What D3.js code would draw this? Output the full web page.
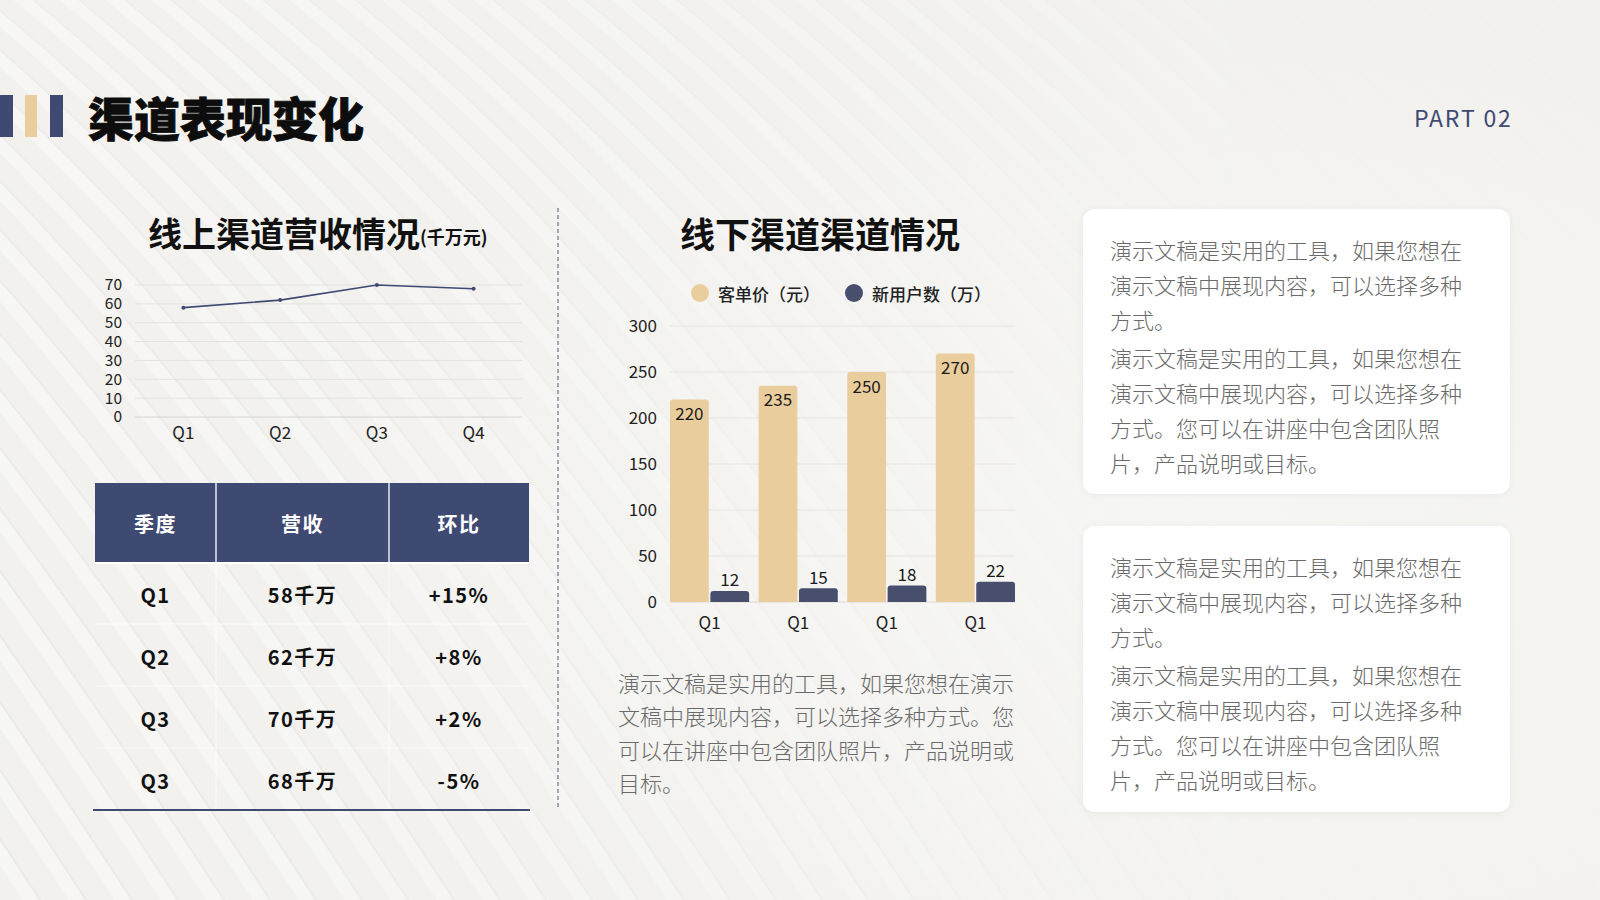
<!DOCTYPE html>
<html><head><meta charset="utf-8">
<script src="https://cdn.jsdelivr.net/npm/d3@7"></script>
<style>
html,body{margin:0;padding:0;background:#f2f1ee;}
svg{display:block;}
text{font-family:"Noto Sans CJK SC","Noto Sans",sans-serif;}
</style></head>
<body>
<svg id="c" width="1600" height="900"></svg>
<script>
// ---------- data ----------
const pageTitle = "渠道表现变化";
const partLabel = "PART 02";
const lineTitle = "线上渠道营收情况";
const lineUnit = "(千万元)";
const lineQuarters = ["Q1", "Q2", "Q3", "Q4"];
const lineRevenue = [58, 62, 70, 68];
const lineTicks = [0, 10, 20, 30, 40, 50, 60, 70];

const tableHeaders = ["季度", "营收", "环比"];
const tableQuarters = ["Q1", "Q2", "Q3", "Q3"];
const tableRevenue = ["58千万", "62千万", "70千万", "68千万"];
const tableChange = ["+15%", "+8%", "+2%", "-5%"];

const barTitle = "线下渠道渠道情况";
const barSeriesNames = ["客单价（元）", "新用户数（万）"];
const barCategories = ["Q1", "Q1", "Q1", "Q1"];
const unitPrice = [220, 235, 250, 270];
const newUsers = [12, 15, 18, 22];
const barTicks = [0, 50, 100, 150, 200, 250, 300];

const barNote = ["演示文稿是实用的工具，如果您想在演示", "文稿中展现内容，可以选择多种方式。您", "可以在讲座中包含团队照片，产品说明或", "目标。"];
const cardTexts = [
  [["演示文稿是实用的工具，如果您想在", "演示文稿中展现内容，可以选择多种", "方式。"],
   ["演示文稿是实用的工具，如果您想在", "演示文稿中展现内容，可以选择多种", "方式。您可以在讲座中包含团队照", "片，产品说明或目标。"]],
  [["演示文稿是实用的工具，如果您想在", "演示文稿中展现内容，可以选择多种", "方式。"],
   ["演示文稿是实用的工具，如果您想在", "演示文稿中展现内容，可以选择多种", "方式。您可以在讲座中包含团队照", "片，产品说明或目标。"]]
];

// ---------- styles ----------
const NAVY = "#3f4a73", BAR_NAVY = "#474f6d", BEIGE = "#eacd9c", GREY = "#6a6a6a";

const svg = d3.select("#c");
const defs = svg.append("defs");

// ---------- background ----------
const bgGrad = defs.append("linearGradient").attr("id", "bgfade").attr("x1", 0).attr("x2", 1).attr("y1", 0).attr("y2", 0);
bgGrad.append("stop").attr("offset", "0").attr("stop-color", "#fff").attr("stop-opacity", 0.9);
bgGrad.append("stop").attr("offset", "0.55").attr("stop-color", "#fff").attr("stop-opacity", 0.5);
bgGrad.append("stop").attr("offset", "0.8").attr("stop-color", "#fff").attr("stop-opacity", 0.1);
const mask = defs.append("mask").attr("id", "stripeMask");
mask.append("rect").attr("width", 1600).attr("height", 900).attr("fill", "url(#bgfade)");

svg.append("rect").attr("width", 1600).attr("height", 900).attr("fill", "#f2f1ee");
const stripes = svg.append("g").attr("mask", "url(#stripeMask)");
for (let i = -30; i < 50; i++) {
  const x0 = i * 46;
  const d = `M${x0},-20 C${x0 + 300},${220} ${x0 + 520},${520} ${x0 + 780},${920}`;
  stripes.append("path").attr("d", d).attr("fill", "none").attr("stroke", "#ffffff").attr("stroke-opacity", 0.45).attr("stroke-width", 14);
  stripes.append("path").attr("d", d).attr("fill", "none").attr("stroke", "#dddad5").attr("stroke-opacity", 0.35).attr("stroke-width", 2).attr("transform", "translate(9,0)");
}
const rg = defs.append("radialGradient").attr("id", "glow").attr("cx", 0.75).attr("cy", 0.6).attr("r", 0.6);
rg.append("stop").attr("offset", "0").attr("stop-color", "#f7f7f5").attr("stop-opacity", 0.8);
rg.append("stop").attr("offset", "1").attr("stop-color", "#f7f7f5").attr("stop-opacity", 0);
svg.append("rect").attr("width", 1600).attr("height", 900).attr("fill", "url(#glow)");

// ---------- header ----------
svg.append("rect").attr("x", 0).attr("y", 95).attr("width", 13).attr("height", 42).attr("fill", NAVY);
svg.append("rect").attr("x", 25).attr("y", 95).attr("width", 12).attr("height", 42).attr("fill", BEIGE);
svg.append("rect").attr("x", 50).attr("y", 95).attr("width", 13).attr("height", 42).attr("fill", NAVY);
svg.append("text").attr("x", 88).attr("y", 116).attr("dominant-baseline", "central")
  .attr("font-size", 46).attr("font-weight", 900).attr("fill", "#0d0d0d")
  .attr("stroke", "#0d0d0d").attr("stroke-width", 0.8).text(pageTitle);
svg.append("text").attr("x", 1414).attr("y", 117).attr("dominant-baseline", "central")
  .attr("font-size", 23).attr("letter-spacing", 1.8).attr("fill", NAVY).attr("font-family", "'Noto Sans',sans-serif").text(partLabel);

// ---------- line chart ----------
const lt = svg.append("text").attr("x", 148).attr("y", 232).attr("dominant-baseline", "central")
  .attr("font-weight", 700).attr("fill", "#111");
lt.append("tspan").attr("font-size", 34).text(lineTitle);
lt.append("tspan").attr("font-size", 18).attr("dy", 4).text(lineUnit);

const lx = d3.scaleBand().domain(lineQuarters).range([135, 522]);
const ly = d3.scaleLinear().domain([0, 70]).range([417, 285]);
const lg = svg.append("g");
lg.selectAll("line.grid").data(lineTicks).join("line")
  .attr("x1", 135).attr("x2", 522).attr("y1", d => ly(d)).attr("y2", d => ly(d))
  .attr("stroke", d => d === 0 ? "#d6d4d0" : "#e4e2de").attr("stroke-width", 1);
const lyAxis = lg.append("g").attr("transform", "translate(135,0)")
  .call(d3.axisLeft(ly).tickValues(lineTicks).tickSize(0).tickPadding(13));
lyAxis.select(".domain").remove();
lyAxis.selectAll("text").attr("font-size", 15.5).attr("fill", "#222").attr("font-family", "'Liberation Sans',sans-serif");
const lxAxis = lg.append("g").attr("transform", "translate(0,417)")
  .call(d3.axisBottom(lx).tickSize(0).tickPadding(10));
lxAxis.select(".domain").remove();
lxAxis.selectAll("text").attr("font-size", 17).attr("fill", "#222").attr("font-family", "'Noto Sans',sans-serif");
const lineGen = d3.line().x((d, i) => lx(lineQuarters[i]) + lx.bandwidth() / 2).y(d => ly(d));
lg.append("path").datum(lineRevenue).attr("d", lineGen).attr("fill", "none").attr("stroke", NAVY).attr("stroke-width", 1.6);
lg.selectAll("circle").data(lineRevenue).join("circle")
  .attr("cx", (d, i) => lx(lineQuarters[i]) + lx.bandwidth() / 2).attr("cy", d => ly(d)).attr("r", 2).attr("fill", NAVY);

// ---------- table ----------
const colEdges = [95, 216, 389, 529];
const headTop = 483, headBot = 562, rowH = 62;
const tg = svg.append("g");
tg.append("rect").attr("x", 95).attr("y", headTop).attr("width", 529 - 95).attr("height", headBot - headTop).attr("fill", NAVY);
[216, 389].forEach(x => {
  tg.append("line").attr("x1", x).attr("x2", x).attr("y1", headTop).attr("y2", headBot).attr("stroke", "#e8e8ee").attr("stroke-width", 1.5);
  tg.append("line").attr("x1", x).attr("x2", x).attr("y1", headBot).attr("y2", headBot + rowH * 4).attr("stroke", "#ffffff").attr("stroke-opacity", 0.7).attr("stroke-width", 1);
});
tg.append("line").attr("x1", 95).attr("x2", 529).attr("y1", headBot + 1).attr("y2", headBot + 1).attr("stroke", "#fff").attr("stroke-width", 2);
const colCenters = [0, 1, 2].map(i => (colEdges[i] + colEdges[i + 1]) / 2);
tg.selectAll("text.h").data(tableHeaders).join("text")
  .attr("x", (d, i) => colCenters[i]).attr("y", (headTop + headBot) / 2 + 1).attr("text-anchor", "middle").attr("dominant-baseline", "central")
  .attr("font-size", 20).attr("font-weight", 700).attr("letter-spacing", 1.5).attr("fill", "#fff").text(d => d);
const rows = tableQuarters.map((q, i) => [q, tableRevenue[i], tableChange[i]]);
rows.forEach((r, ri) => {
  const cy = headBot + rowH * ri + rowH / 2 + 1;
  if (ri > 0) tg.append("line").attr("x1", 95).attr("x2", 529).attr("y1", headBot + rowH * ri).attr("y2", headBot + rowH * ri).attr("stroke", "#fff").attr("stroke-opacity", 0.7);
  r.forEach((v, ci) => {
    tg.append("text").attr("x", colCenters[ci]).attr("y", cy).attr("text-anchor", "middle").attr("dominant-baseline", "central")
      .attr("font-size", 20).attr("font-weight", 700).attr("letter-spacing", 1.5).attr("fill", "#111").text(v);
  });
});
tg.append("line").attr("x1", 93).attr("x2", 530).attr("y1", headBot + rowH * 4).attr("y2", headBot + rowH * 4).attr("stroke", NAVY).attr("stroke-width", 2);

// ---------- divider ----------
svg.append("line").attr("x1", 558).attr("x2", 558).attr("y1", 208).attr("y2", 809)
  .attr("stroke", "#4d5677").attr("stroke-width", 1).attr("stroke-dasharray", "4,3");

// ---------- bar chart ----------
svg.append("text").attr("x", 680).attr("y", 232).attr("dominant-baseline", "central")
  .attr("font-size", 35).attr("font-weight", 700).attr("fill", "#111").text(barTitle);

const legendX = [700, 854];
const legendColors = [BEIGE, BAR_NAVY];
barSeriesNames.forEach((n, i) => {
  svg.append("circle").attr("cx", legendX[i]).attr("cy", 293).attr("r", 9).attr("fill", legendColors[i]);
  svg.append("text").attr("x", legendX[i] + 18).attr("y", 293).attr("dominant-baseline", "central")
    .attr("font-size", 17).attr("font-weight", 500).attr("fill", "#222").text(n);
});

const idx = barCategories.map((d, i) => i);
const bx0 = d3.scaleBand().domain(idx).range([670, 1015]).paddingInner(0.107).paddingOuter(0);
const bx1 = d3.scaleBand().domain([0, 1]).range([0, bx0.bandwidth()]).paddingInner(0.04);
const by = d3.scaleLinear().domain([0, 300]).range([602, 326]);
const bg = svg.append("g");
bg.selectAll("line.grid").data(barTicks).join("line")
  .attr("x1", 670).attr("x2", 1015).attr("y1", d => by(d)).attr("y2", d => by(d))
  .attr("stroke", d => d === 0 ? "#dcdad6" : "#e6e4e0").attr("stroke-width", 1);
const byAxis = bg.append("g").attr("transform", "translate(670,0)")
  .call(d3.axisLeft(by).tickValues(barTicks).tickSize(0).tickPadding(13));
byAxis.select(".domain").remove();
byAxis.selectAll("text").attr("font-size", 17).attr("fill", "#222").attr("font-family", "'Noto Sans',sans-serif");
const bxAxis = bg.append("g").attr("transform", "translate(0,602)")
  .call(d3.axisBottom(bx0).tickSize(0).tickPadding(15).tickFormat(i => barCategories[i]));
bxAxis.select(".domain").remove();
bxAxis.selectAll("text").attr("font-size", 17).attr("fill", "#222").attr("font-family", "'DejaVu Sans',sans-serif");

function topRounded(x, y, w, h, r) {
  r = Math.min(r, h);
  return `M${x},${y + h} L${x},${y + r} Q${x},${y} ${x + r},${y} L${x + w - r},${y} Q${x + w},${y} ${x + w},${y + r} L${x + w},${y + h} Z`;
}
const series = [unitPrice, newUsers];
series.forEach((vals, s) => {
  bg.selectAll("path.s" + s).data(vals).join("path")
    .attr("d", (d, i) => topRounded(bx0(i) + bx1(s), by(d), bx1.bandwidth(), by(0) - by(d), 3))
    .attr("fill", legendColors[s]);
  bg.selectAll("text.l" + s).data(vals).join("text")
    .attr("x", (d, i) => bx0(i) + bx1(s) + bx1.bandwidth() / 2)
    .attr("y", d => s === 0 ? by(d) + 13 : by(d) - 12)
    .attr("text-anchor", "middle").attr("dominant-baseline", "central")
    .attr("font-size", 17).attr("fill", "#1a1a1a").attr("font-family", "'Noto Sans',sans-serif").text(d => d);
});

// note under bar chart
svg.selectAll("text.note").data(barNote).join("text")
  .attr("x", 618).attr("y", (d, i) => 682 + i * 33.3).attr("dominant-baseline", "central")
  .attr("font-size", 22).attr("font-weight", 300).attr("fill", GREY).text(d => d);

// ---------- cards ----------
const shadow = defs.append("filter").attr("id", "sh").attr("x", -0.1).attr("y", -0.1).attr("width", 1.2).attr("height", 1.2);
shadow.append("feDropShadow").attr("dx", 0).attr("dy", 1).attr("stdDeviation", 3).attr("flood-color", "#000").attr("flood-opacity", 0.05);
const cardBoxes = [[209, 494], [526, 812]];
cardBoxes.forEach((b, ci) => {
  svg.append("rect").attr("x", 1083).attr("y", b[0]).attr("width", 1510 - 1083).attr("height", b[1] - b[0])
    .attr("rx", 12).attr("fill", "#ffffff").attr("filter", "url(#sh)");
  let y = b[0] + 40;
  cardTexts[ci].forEach((para, pi) => {
    if (pi > 0) y += 3;
    para.forEach(line => {
      svg.append("text").attr("x", 1110).attr("y", y).attr("dominant-baseline", "central")
        .attr("font-size", 22).attr("font-weight", 300).attr("fill", GREY).text(line);
      y += 35;
    });
  });
});
</script>
</body></html>
